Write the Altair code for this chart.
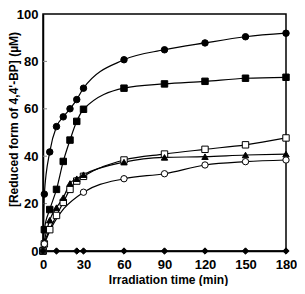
import altair as alt
import pandas as pd

times_full = [0, 1, 5, 10, 15, 20, 25, 30, 60, 90, 120, 150, 180]
filled_circle = [0, 24, 41.8, 52.5, 56.6, 60, 63.9, 68.7, 80.7, 84.9, 87.8, 90.4, 91.9]
filled_square = [0, 9, 17.5, 26, 37.8, 46.8, 54.7, 59.8, 68.7, 70.5, 71.6, 72.9, 73.3]
open_square = [0, 3, 9, 15, 20.5, 26, 29.5, 31.5, 38.4, 40.9, 42.9, 44.8, 47.7]
filled_triangle = [0, 4, 13, 18.3, 22.5, 28.5, 30.5, 32.2, 37.5, 39.5, 39.8, 40.5, 40.9]
times_oc = [0, 1, 30, 60, 90, 120, 150, 180]
open_circle = [0, 3, 24.8, 30.5, 32.6, 36.3, 37.7, 38.4]
times_dm = [0, 10, 25, 30, 60, 90, 120, 150, 180]
diamond = [0, 0, 0, 0, 0, 0, 0, 0, 0]
ytick_vals = [20, 40, 60, 80]

series = ["fc", "fs", "os", "ft", "oc", "dm"]
rows = []
for name, tt, vv in [("fc", times_full, filled_circle), ("fs", times_full, filled_square),
                     ("os", times_full, open_square), ("ft", times_full, filled_triangle),
                     ("oc", times_oc, open_circle), ("dm", times_dm, diamond)]:
    for t, v in zip(tt, vv):
        rows.append({"t": t, "v": v, "s": name})
df = pd.DataFrame(rows)

FONT = "Liberation Sans"
xs = alt.Scale(domain=[0, 180], nice=False)
ys = alt.Scale(domain=[0, 100], nice=False)

base = alt.Chart(df)
lines = base.mark_line(color="black", strokeWidth=1.2, interpolate="monotone", clip=False).encode(
    x=alt.X("t:Q", scale=xs, axis=alt.Axis(values=[0, 30, 60, 90, 120, 150, 180], tickSize=0,
            labelPadding=7, labelFlush=False, labelFont=FONT, labelFontSize=13, labelFontWeight="bold",
            labelColor="black", title="Irradiation time (min)", titleFont=FONT, titleFontSize=12,
            titleFontWeight="bold", titleColor="black", titlePadding=3, titleX=125,
            grid=False, domainColor="black", domainWidth=1.5)),
    y=alt.Y("v:Q", scale=ys, axis=alt.Axis(values=[0, 20, 40, 60, 80, 100], tickSize=0,
            labelPadding=5, labelFlush=False, labelFont=FONT, labelFontSize=13, labelFontWeight="bold",
            labelColor="black", title="[Reduced form of 4,4'-BP] (µM)", titleFont=FONT, titleFontSize=12,
            titleFontWeight="bold", titleColor="black", titlePadding=-4, titleY=105,
            grid=False, domainColor="black", domainWidth=1.5)),
    detail="s:N",
)
points = base.mark_point(filled=True, stroke="black", strokeWidth=1, opacity=1, clip=False).encode(
    x=alt.X("t:Q", scale=xs),
    y=alt.Y("v:Q", scale=ys),
    shape=alt.Shape("s:N", scale=alt.Scale(domain=series,
                    range=["circle", "square", "square", "triangle-up", "circle", "diamond"]), legend=None),
    fill=alt.Fill("s:N", scale=alt.Scale(domain=series,
                  range=["black", "black", "white", "black", "white", "black"]), legend=None),
    size=alt.Size("s:N", scale=alt.Scale(domain=series, range=[42, 40, 36, 40, 36, 28]), legend=None),
)
ticks = alt.Chart(pd.DataFrame({"y": ytick_vals})).mark_rule(color="#888888", strokeWidth=1).encode(
    y=alt.Y("y:Q", scale=ys), x=alt.value(0), x2=alt.value(4)
)

chart = alt.layer(ticks, lines, points).properties(
    width=243, height=237, autosize=alt.AutoSizeParams(type="none"),
    padding={"left": 35, "top": 6, "right": 11, "bottom": 35},
).configure_view(stroke="black", strokeWidth=1.5)

chart.save("out.html", embed_options={"renderer": "svg", "actions": False})
